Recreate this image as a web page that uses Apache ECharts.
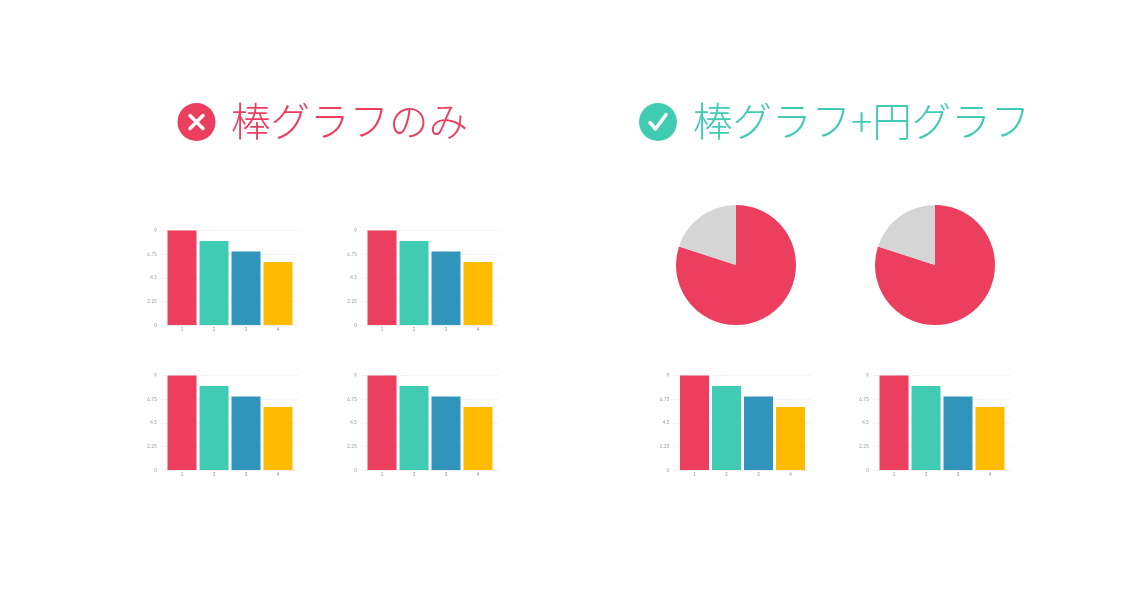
<!DOCTYPE html>
<html><head><meta charset="utf-8">
<style>html,body{margin:0;padding:0;background:#fff}#c{width:1140px;height:600px}</style>
<script src="https://cdn.jsdelivr.net/npm/echarts@6/dist/echarts.min.js"></script>
</head><body><div id="c"></div>
<script>
const categories=[1,2,3,4];
const barValues=[9,8,7,6];
const barColors=['#ec3f60','#40cbb3','#3194bb','#febb00'];
const yTicks=[0,2.25,4.5,6.75,9];
const pieValues=[80,20];
const pieColors=['#ec3f60','#d5d5d5'];
const leftTitle='棒グラフのみ';
const rightTitle='棒グラフ+円グラフ';
const barPanels=[[162,230.5],[362,230.5],[162,375.5],[362,375.5],[674.5,375.5],[874,375.5]];
const piePanels=[[736,265],[935,265]];

const grid=[],xAxis=[],yAxis=[],series=[];
barPanels.forEach(([l,t],i)=>{
  grid.push({left:l,top:t,width:136,height:94.5});
  xAxis.push({type:'value',gridIndex:i,min:0.375,max:4.625,splitLine:{show:false},
    axisLine:{show:true,onZero:false,lineStyle:{color:'#f0f0f0',width:1}},axisTick:{show:false},
    axisLabel:{customValues:categories,fontSize:5,color:'#a0a0a0',margin:2,fontFamily:'Lato'}});
  yAxis.push({type:'value',gridIndex:i,min:0,max:9,interval:2.25,
    splitLine:{lineStyle:{color:'#f3f3f3',width:1}},axisLine:{show:false},axisTick:{show:false},
    axisLabel:{customValues:yTicks,fontSize:5,color:'#a0a0a0',margin:5,fontFamily:'Lato',formatter:v=>String(v)}});
  series.push({type:'bar',xAxisIndex:i,yAxisIndex:i,barWidth:29,silent:true,animation:false,
    data:categories.map((c,k)=>({value:[c,barValues[k]],itemStyle:{color:barColors[k]}}))});
});
piePanels.forEach(([x,y])=>{
  series.push({type:'pie',center:[x,y],radius:[0,60],startAngle:90,silent:true,animation:false,
    label:{show:false},labelLine:{show:false},
    data:pieValues.map((v,k)=>({value:v,itemStyle:{color:pieColors[k]}}))});
});
const titleFont={fontFamily:'Noto Sans CJK JP',fontWeight:300,fontSize:39.5};
const chart=echarts.init(document.getElementById('c'),null,{renderer:'canvas'});
chart.setOption({animation:false,backgroundColor:'#fff',grid,xAxis,yAxis,series,
  title:[
    {text:leftTitle,left:231,top:101,padding:0,textStyle:{...titleFont,color:'#ec3f60'}},
    {text:rightTitle,left:693,top:101,padding:0,textStyle:{...titleFont,color:'#40cbb3'}}
  ],
  graphic:[
    {type:'circle',shape:{cx:196.5,cy:122,r:19},style:{fill:'#ec3f60'}},
    {type:'line',shape:{x1:190,y1:115.5,x2:203,y2:128.5},style:{stroke:'#fff',lineWidth:3.5,lineCap:'round'}},
    {type:'line',shape:{x1:203,y1:115.5,x2:190,y2:128.5},style:{stroke:'#fff',lineWidth:3.5,lineCap:'round'}},
    {type:'circle',shape:{cx:658,cy:122,r:19},style:{fill:'#40cbb3'}},
    {type:'polyline',shape:{points:[[650,122.5],[655.5,129],[666,114.5]]},style:{stroke:'#fff',fill:'none',lineWidth:3.5,lineCap:'round',lineJoin:'round'}}
  ]
});
</script></body></html>
